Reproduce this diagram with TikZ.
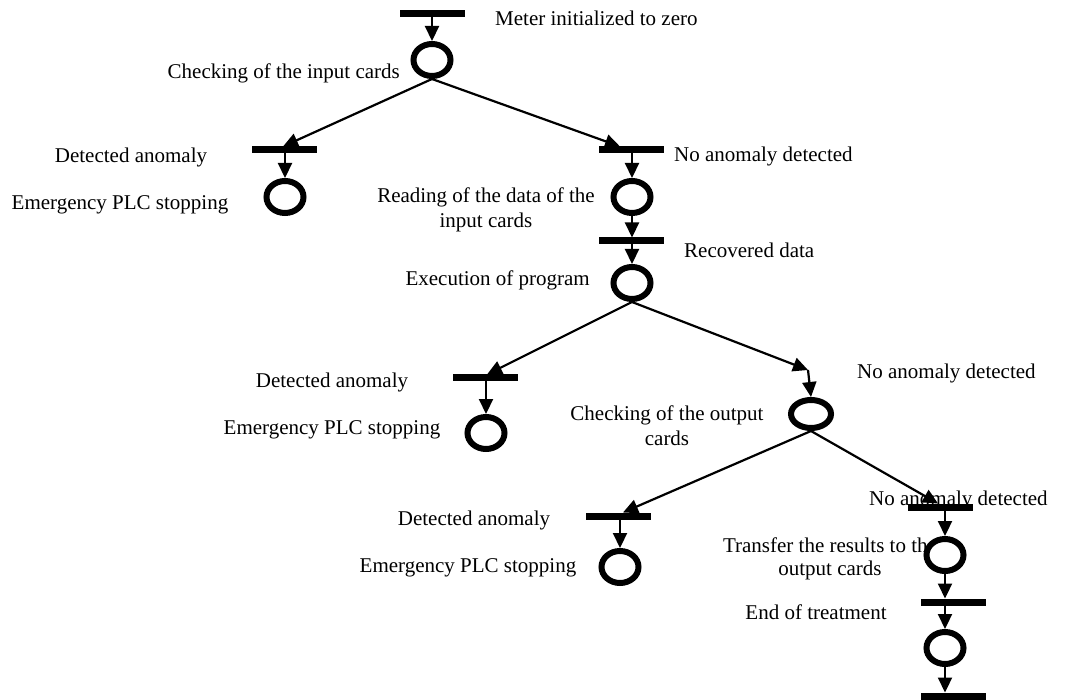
\documentclass[tikz,border=0pt]{standalone}
\usepackage{fontspec}
\setmainfont{Liberation Serif}
\usetikzlibrary{arrows.meta,shapes.geometric}
\begin{document}
\begin{tikzpicture}[x=1pt,y=-1pt,
  lbl/.style={font=\fontsize{21}{25}\selectfont, inner sep=0pt, align=center},
  bar/.style={fill=black, minimum width=65pt, minimum height=7pt, inner sep=0pt, outer sep=0pt},
  place/.style={draw, fill=white, ellipse, line width=6pt, minimum width=37pt, minimum height=32pt, inner sep=0pt},
  arc/.style={line width=2.2pt, -{Triangle[length=15pt,width=14pt]}},
]
\useasboundingbox (0,0) rectangle (1068,700);

% labels
\node[lbl, anchor=west] (l0) at (495,18) {Meter initialized to zero};
\node[lbl, anchor=east] (l1) at (400,73) {Checking of the input cards};
\node[lbl] (l2) at (131,157) {Detected anomaly};
\node[lbl] (l3) at (120,205) {Emergency PLC stopping};
\node[lbl, anchor=west] (l4) at (674,156) {No anomaly detected};
\node[lbl] (l5) at (486,210) {Reading of the data of the\\input cards};
\node[lbl, anchor=west] (l6) at (684,250) {Recovered data};
\node[lbl, anchor=east] (l7) at (590,280) {Execution of program};
\node[lbl] (l8) at (332,382) {Detected anomaly};
\node[lbl] (l9) at (332,430) {Emergency PLC stopping};
\node[lbl, anchor=west] (l10) at (857,373) {No anomaly detected};
\node[lbl] (l11) at (667,426) {Checking of the output\\cards};
\node[lbl] (l12) at (474,520) {Detected anomaly};
\node[lbl] (l13) at (468,568) {Emergency PLC stopping};
\node[lbl, anchor=west] (l14) at (869,500) {No anomaly detected};
\node[lbl, font=\fontsize{21}{23}\selectfont] (l15) at (830,559) {Transfer the results to the\\output cards};
\node[lbl] (l16) at (816,612) {End of treatment};

% transitions
\node[bar] (t0) at (432,14) {};
\node[bar] (t1) at (284,150) {};
\node[bar] (t2) at (631,150) {};
\node[bar] (t3) at (631,241) {};
\node[bar] (t4) at (485,378) {};
\coordinate (t5) at (808,370);
\node[bar] (t6) at (618,516) {};
\node[bar] (t7) at (940,507) {};
\node[bar] (t8) at (953,602) {};
\node[bar] (t9) at (953,696) {};

% places
\node[place] (p0) at (432,60) {};
\node[place] (p1) at (285,197) {};
\node[place] (p2) at (632,197) {};
\node[place] (p3) at (632,283) {};
\node[place] (p4) at (486,433) {};
\node[place, minimum width=40pt, minimum height=28pt] (p5) at (811,414) {};
\node[place] (p6) at (620,567) {};
\node[place] (p7) at (945,555) {};
\node[place] (p8) at (945,648) {};

% arcs
\draw[arc] (t0.south -| p0.north) -- (p0.north);
\draw[arc] (p0.south) -- ([xshift=-1pt]t1.north);
\draw[arc] (p0.south) -- ([xshift=-11pt]t2.north);
\draw[arc] (t1.south -| p1.north) -- (p1.north);
\draw[arc] (t2.south -| p2.north) -- (p2.north);
\draw[arc] (p2.south) -- (p2.south |- t3.north);
\draw[arc] (t3.south -| p3.north) -- (p3.north);
\draw[arc] (p3.south) -- ([xshift=2pt]t4.north);
\draw[arc] (p3.south) -- (t5);
\draw[arc] (t4.south -| p4.north) -- (p4.north);
\draw[arc] (t5) -- (p5.north);
\draw[arc] (p5.south) -- ([xshift=5pt]t6.north);
\draw[arc] (p5.south) -- ([xshift=-2pt]t7.north);
\draw[arc] (t6.south -| p6.north) -- (p6.north);
\draw[arc] (t7.south -| p7.north) -- (p7.north);
\draw[arc] (p7.south) -- (p7.south |- t8.north);
\draw[arc] (t8.south -| p8.north) -- (p8.north);
\draw[arc] (p8.south) -- (p8.south |- t9.north);
\end{tikzpicture}
\end{document}
